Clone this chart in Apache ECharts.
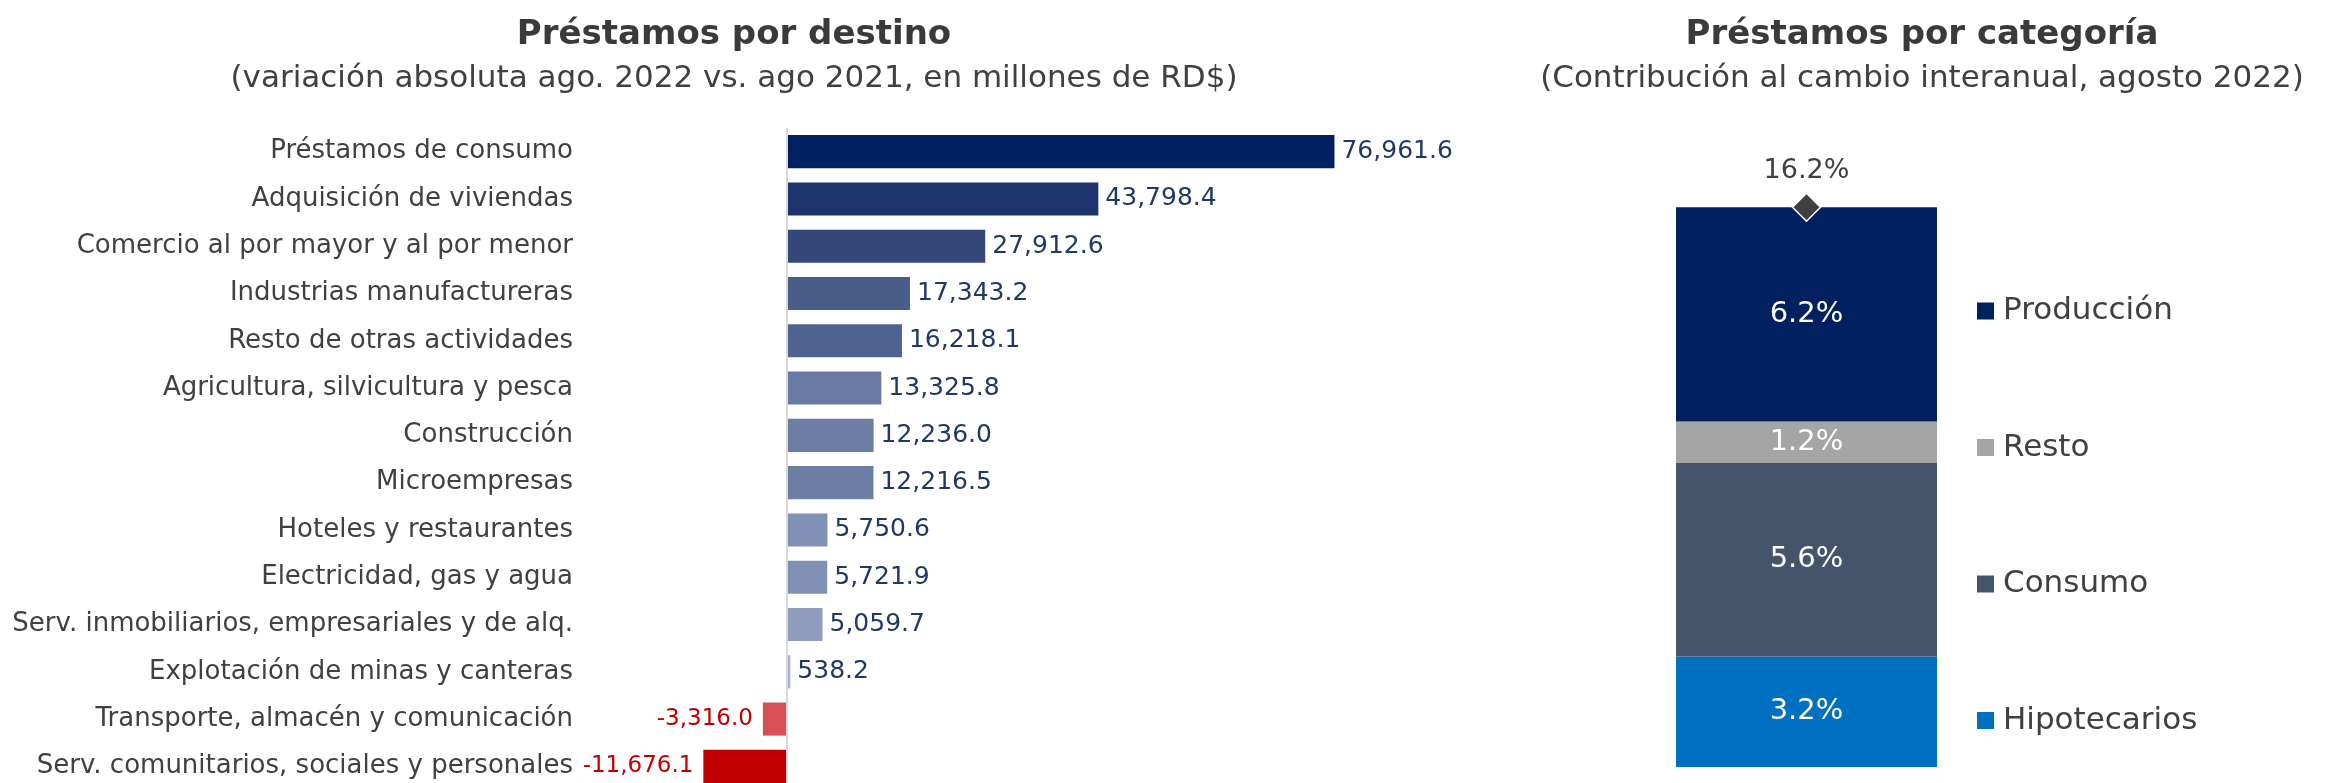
<!DOCTYPE html>
<html>
<head>
<meta charset="utf-8">
<script src="https://cdn.jsdelivr.net/npm/echarts/dist/echarts.min.js"></script>
<style>
  html, body { margin: 0; padding: 0; background: #ffffff; }
  #chart { width: 2333px; height: 783px; }
</style>
</head>
<body>
<div id="chart"></div>
<script>
// Préstamos por destino: variación absoluta (millones de RD$)
const destinos = [
  'Préstamos de consumo',
  'Adquisición de viviendas',
  'Comercio al por mayor y al por menor',
  'Industrias manufactureras',
  'Resto de otras actividades',
  'Agricultura, silvicultura y pesca',
  'Construcción',
  'Microempresas',
  'Hoteles y restaurantes',
  'Electricidad, gas y agua',
  'Serv. inmobiliarios, empresariales y de alq.',
  'Explotación de minas y canteras',
  'Transporte, almacén y comunicación',
  'Serv. comunitarios, sociales y personales'
];
const variacion = [76961.6, 43798.4, 27912.6, 17343.2, 16218.1, 13325.8, 12236.0,
                   12216.5, 5750.6, 5721.9, 5059.7, 538.2, -3316.0, -11676.1];

// Préstamos por categoría: contribución al cambio interanual (%)
const categoria = ['ago. 2022'];
const hipotecarios = [3.2];
const consumo = [5.6];
const resto = [1.2];
const produccion = [6.2];
const totalInteranual = [16.2];

// colour ramp for the destination bars
const barColors = ['#002060', '#1D336B', '#334879', '#4A5E8A', '#4F6390', '#6879A3',
                   '#6D7EA5', '#6D7EA5', '#8190B5', '#8190B5', '#909CBD', '#A6B0CC',
                   '#D65055', '#C00000'];

const FONT = 'DejaVu Sans';
const GREY = '#404040';

const fmtMiles = v => v.toLocaleString('en-US', { minimumFractionDigits: 1, maximumFractionDigits: 1 });
const fmtPct = v => v.toFixed(1) + '%';

const destinoData = variacion.map((v, i) => ({
  value: v,
  itemStyle: { color: barColors[i] },
  label: v < 0
    ? { position: 'left', distance: 10, fontSize: 23, color: '#C00000' }
    : { position: 'right', distance: 7, color: '#1F3864' }
}));

function stackSeries(name, data, color) {
  return {
    name: name,
    type: 'bar',
    xAxisIndex: 1,
    yAxisIndex: 1,
    stack: 'total',
    barWidth: '100%',
    data: data,
    itemStyle: { color: color },
    label: {
      show: true,
      position: 'inside',
      color: '#ffffff',
      fontFamily: FONT,
      fontSize: 29,
      formatter: p => fmtPct(p.value)
    }
  };
}

const chart = echarts.init(document.getElementById('chart'));

chart.setOption({
  animation: false,
  backgroundColor: '#ffffff',
  textStyle: { fontFamily: FONT },
  title: [
    {
      text: 'Préstamos por destino',
      subtext: '(variación absoluta ago. 2022 vs. ago 2021, en millones de RD$)',
      left: 729,
      top: 12,
      textAlign: 'center',
      itemGap: 9,
      textStyle: { fontFamily: FONT, fontSize: 34, fontWeight: 'bold', color: '#3A3A3A', lineHeight: 36 },
      subtextStyle: { fontFamily: FONT, fontSize: 31, color: GREY, lineHeight: 34 }
    },
    {
      text: 'Préstamos por categoría',
      subtext: '(Contribución al cambio interanual, agosto 2022)',
      left: 1917,
      top: 12,
      textAlign: 'center',
      itemGap: 9,
      textStyle: { fontFamily: FONT, fontSize: 34, fontWeight: 'bold', color: '#3A3A3A', lineHeight: 36 },
      subtextStyle: { fontFamily: FONT, fontSize: 31, color: GREY, lineHeight: 34 }
    }
  ],
  legend: {
    data: ['Producción', 'Resto', 'Consumo', 'Hipotecarios'],
    orient: 'vertical',
    left: 1972,
    top: 289,
    icon: 'rect',
    itemWidth: 17,
    itemHeight: 17,
    itemGap: 102.5,
    selectedMode: false,
    textStyle: { fontFamily: FONT, fontSize: 31, color: GREY, lineHeight: 34, padding: [0, 0, 0, 4] }
  },
  grid: [
    { left: 580, top: 128, width: 918.5, height: 662, outerBoundsMode: 'none', containLabel: false },
    { left: 1676, top: 145, width: 261, height: 622, outerBoundsMode: 'none', containLabel: false }
  ],
  xAxis: [
    {
      type: 'value',
      gridIndex: 0,
      min: -29000,
      max: 100000,
      axisLine: { show: false },
      axisTick: { show: false },
      axisLabel: { show: false },
      splitLine: { show: false }
    },
    {
      type: 'category',
      gridIndex: 1,
      data: categoria,
      show: false
    }
  ],
  yAxis: [
    {
      type: 'category',
      gridIndex: 0,
      data: destinos,
      inverse: true,
      axisLine: { show: false },
      axisTick: { show: false },
      splitLine: { show: false },
      axisLabel: { fontFamily: FONT, fontSize: 26, color: GREY, margin: 7 }
    },
    {
      type: 'value',
      gridIndex: 1,
      min: 0,
      max: 18,
      show: false,
      splitLine: { show: false }
    }
  ],
  series: [
    {
      name: 'Variación',
      type: 'bar',
      xAxisIndex: 0,
      yAxisIndex: 0,
      barCategoryGap: '30%',
      data: destinoData,
      label: {
        show: true,
        fontFamily: FONT,
        fontSize: 25,
        formatter: p => fmtMiles(p.value)
      },
      markLine: {
        silent: true,
        symbol: 'none',
        label: { show: false },
        lineStyle: { color: '#D9D9D9', width: 2, type: 'solid' },
        data: [{ xAxis: 0 }]
      }
    },
    stackSeries('Hipotecarios', hipotecarios, '#0070C0'),
    stackSeries('Consumo', consumo, '#44546A'),
    stackSeries('Resto', resto, '#A5A5A5'),
    stackSeries('Producción', produccion, '#002060'),
    {
      name: 'Total',
      type: 'scatter',
      xAxisIndex: 1,
      yAxisIndex: 1,
      z: 5,
      data: totalInteranual,
      symbol: 'diamond',
      symbolSize: [28, 28],
      itemStyle: { color: '#404040', opacity: 1, borderColor: '#ffffff', borderWidth: 1.5 },
      label: {
        show: true,
        position: 'top',
        distance: 8,
        fontFamily: FONT,
        fontSize: 27,
        color: GREY,
        opacity: 1,
        formatter: p => fmtPct(p.value)
      }
    }
  ]
});
</script>
</body>
</html>
